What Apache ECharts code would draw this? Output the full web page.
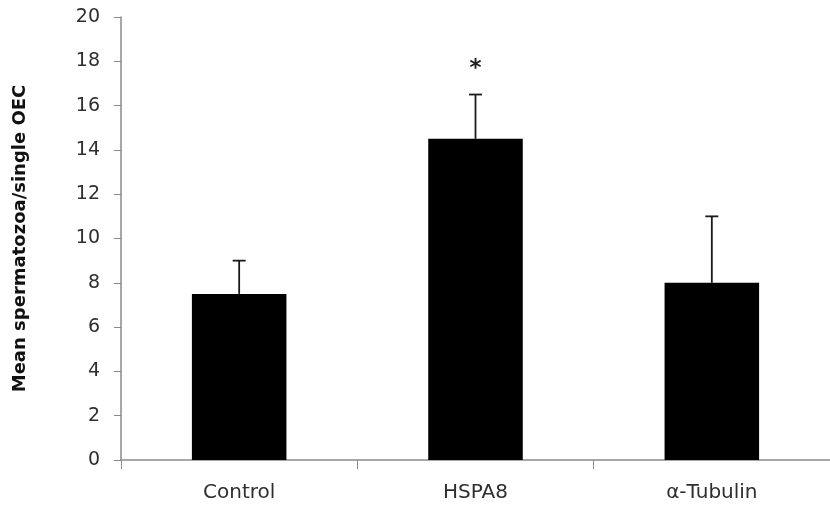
<!DOCTYPE html>
<html>
<head>
<meta charset="utf-8">
<title>Mean spermatozoa per single OEC</title>
<script src="https://cdn.jsdelivr.net/npm/echarts@6/dist/echarts.min.js"></script>
<style>
  html, body { margin: 0; padding: 0; background: #ffffff; }
  #chart { width: 830px; height: 508px; }
</style>
</head>
<body>
<div id="chart"></div>
<script>
// Treatment groups on the x axis
const categories = ['Control', 'HSPA8', '\u03b1-Tubulin'];
// Mean spermatozoa bound per single OEC
const means = [7.5, 14.5, 8.0];
// Upper error (SD) for each group
const errors = [1.5, 2.0, 3.0];
// Significance marks drawn above the error bars
const marks = ['', '*', ''];
// Y axis range
const yMin = 0, yMax = 20, yStep = 2;

const axisGrey = '#8a8a8a';
const textColor = '#2e2e2e';

const chart = echarts.init(document.getElementById('chart'), null, { renderer: 'canvas' });

const errorData = categories.map((c, i) => [i, means[i], means[i] + errors[i], marks[i]]);

chart.setOption({
  animation: false,
  backgroundColor: '#ffffff',
  grid: { left: 121, top: 17, width: 712, height: 443, containLabel: false },
  xAxis: {
    type: 'category',
    data: categories,
    boundaryGap: true,
    axisLine: { show: true, lineStyle: { color: axisGrey, width: 1.5 } },
    axisTick: { show: true, length: 9, lineStyle: { color: axisGrey, width: 1 } },
    axisLabel: { margin: 23, fontFamily: 'DejaVu Sans', fontSize: 20, color: textColor },
    splitLine: { show: false }
  },
  yAxis: {
    type: 'value',
    min: yMin,
    max: yMax,
    interval: yStep,
    name: 'Mean spermatozoa/single OEC',
    nameLocation: 'middle',
    nameGap: 92,
    nameTextStyle: { fontFamily: 'DejaVu Sans', fontWeight: 'bold', fontSize: 18, color: '#111111' },
    axisLine: { show: true, lineStyle: { color: axisGrey, width: 1.5 } },
    axisTick: { show: true, length: 7, lineStyle: { color: axisGrey, width: 1 } },
    axisLabel: { margin: 21, fontFamily: 'DejaVu Sans', fontSize: 19, color: textColor },
    splitLine: { show: false }
  },
  series: [
    {
      type: 'bar',
      data: means,
      barWidth: '40%',
      itemStyle: { color: '#000000' },
      z: 2
    },
    {
      type: 'custom',
      data: errorData,
      z: 3,
      renderItem: function (params, api) {
        const idx = api.value(0);
        const base = api.coord([idx, api.value(1)]);
        const top = api.coord([idx, api.value(2)]);
        const half = 6.5;
        const style = { stroke: '#1a1a1a', lineWidth: 1.8 };
        const children = [
          { type: 'line', shape: { x1: base[0], y1: base[1], x2: top[0], y2: top[1] }, style: style },
          { type: 'line', shape: { x1: top[0] - half, y1: top[1], x2: top[0] + half, y2: top[1] }, style: style }
        ];
        const mark = marks[params.dataIndex];
        if (mark) {
          children.push({
            type: 'text',
            style: {
              x: top[0], y: top[1] - 25,
              text: mark,
              fill: '#222222',
              font: 'bold 23px "DejaVu Sans"',
              align: 'center',
              verticalAlign: 'middle'
            }
          });
        }
        return { type: 'group', children: children };
      }
    }
  ]
});
</script>
</body>
</html>
